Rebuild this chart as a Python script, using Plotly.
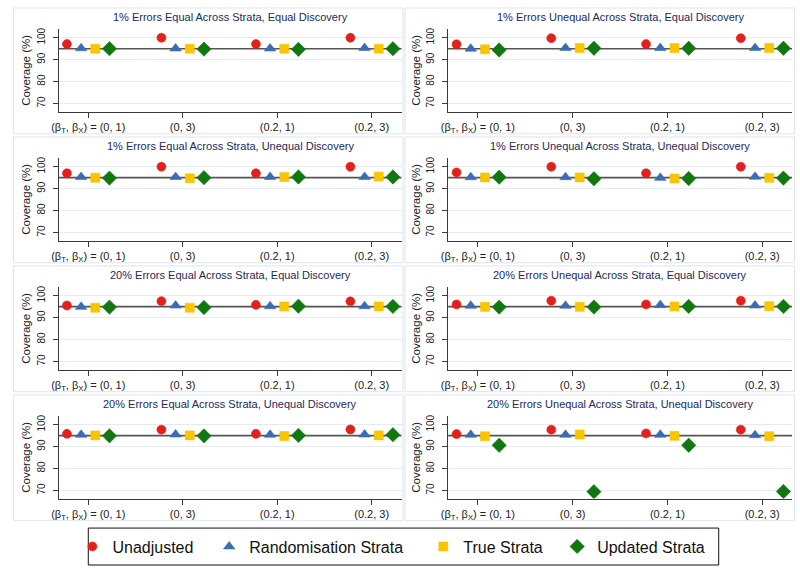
import plotly.graph_objects as go

# ---------------- data ----------------
categories = ["(β<sub>T</sub>, β<sub>X</sub>) = (0, 1)", "(0, 3)", "(0.2, 1)", "(0.2, 3)"]
panel_titles = [
    "1% Errors Equal Across Strata, Equal Discovery",
    "1% Errors Unequal Across Strata, Equal Discovery",
    "1% Errors Equal Across Strata, Unequal Discovery",
    "1% Errors Unequal Across Strata, Unequal Discovery",
    "20% Errors Equal Across Strata, Equal Discovery",
    "20% Errors Unequal Across Strata, Equal Discovery",
    "20% Errors Equal Across Strata, Unequal Discovery",
    "20% Errors Unequal Across Strata, Unequal Discovery",
]
series_names = ["Unadjusted", "Randomisation Strata", "True Strata", "Updated Strata"]

unadjusted = [
    [97.1, 100.0, 97.1, 100.0],
    [97.0, 99.8, 97.1, 99.8],
    [97.0, 100.0, 97.0, 100.0],
    [97.4, 100.0, 97.0, 100.0],
    [95.5, 97.5, 95.8, 97.4],
    [96.0, 97.7, 96.0, 97.7],
    [95.8, 97.7, 95.8, 97.8],
    [95.7, 97.7, 96.0, 97.7],
]
randomisation = [
    [95.2, 95.1, 95.1, 95.3],
    [95.0, 95.3, 95.3, 95.3],
    [95.3, 95.3, 95.3, 95.3],
    [95.2, 95.2, 94.9, 95.4],
    [94.9, 95.5, 95.2, 95.2],
    [95.4, 95.4, 95.7, 95.5],
    [95.4, 95.5, 95.4, 95.5],
    [95.4, 95.4, 95.4, 95.2],
]
true_strata = [
    [95.0, 95.0, 95.0, 95.0],
    [94.7, 95.3, 95.3, 95.3],
    [95.0, 94.7, 95.3, 95.5],
    [95.1, 95.1, 94.6, 94.9],
    [94.5, 94.5, 95.1, 95.1],
    [94.9, 94.9, 95.1, 95.2],
    [95.1, 95.1, 94.8, 95.1],
    [94.7, 95.5, 94.9, 94.7],
]
updated = [
    [95.0, 94.8, 94.7, 95.0],
    [94.4, 95.2, 95.2, 95.2],
    [94.8, 95.0, 95.3, 95.3],
    [95.2, 94.5, 94.6, 94.8],
    [94.8, 94.6, 95.2, 95.1],
    [94.8, 94.8, 95.1, 95.1],
    [94.9, 94.9, 95.1, 95.4],
    [90.6, 69.4, 90.6, 69.5],
]
y_ticks = [70, 80, 90, 100]
target_coverage = 95

# ---------------- style ----------------
W, H = 800, 571
colors = ["#e3211c", "#3a6cb4", "#f8c500", "#11780f"]
symbols = ["circle", "triangle-up", "square", "diamond"]
sizes = [9, 10, 9, 11]
offsets = [-0.225, -0.075, 0.075, 0.225]
font_family = "Liberation Sans, Arial, sans-serif"
frame_color = "#dfe5eb"
grid_color = "#e4eaef"
axis_color = "#3a3a3a"

col_x = [(52, 398), (445, 792)]
row_step = 129.2
legend_x_px = [66, 204, 420, 555]
legend_keys = ["legend", "legend2", "legend3", "legend4"]

fig = go.Figure()
shapes = []
annotations = []
all_series = [unadjusted, randomisation, true_strata, updated]

for p in range(8):
    r, c = divmod(p, 2)
    suffix = "" if p == 0 else str(p + 1)
    xa, ya = "x" + suffix, "y" + suffix
    x0, x1 = col_x[c]
    top = 28 + row_step * r
    bot = 111 + row_step * r
    xdom = [x0 / W, x1 / W]
    ydom = [1 - bot / H, 1 - top / H]

    for s in range(4):
        fig.add_trace(go.Scatter(
            x=[i + offsets[s] for i in range(len(categories))],
            y=all_series[s][p],
            mode="markers",
            name=series_names[s],
            legendgroup=series_names[s],
            legend=legend_keys[s],
            showlegend=(p == 0),
            marker=dict(color=colors[s], symbol=symbols[s], size=sizes[s],
                        line=dict(width=0.6, color=colors[s])),
            xaxis=xa, yaxis=ya,
        ))

    fig.layout["xaxis" + suffix] = dict(
        domain=xdom, anchor=ya, range=[-0.314, 3.316],
        tickmode="array", tickvals=list(range(len(categories))), ticktext=categories,
        showgrid=False, zeroline=False, showline=True, linecolor=axis_color, linewidth=1,
        ticks="outside", ticklen=5, tickcolor=axis_color,
        tickfont=dict(size=11, color="#222", family=font_family),
    )
    fig.layout["yaxis" + suffix] = dict(
        domain=ydom, anchor=xa, range=[66.2, 104],
        tickmode="array", tickvals=y_ticks, tickangle=-90,
        showgrid=True, gridcolor=grid_color, gridwidth=1,
        zeroline=False, showline=True, linecolor=axis_color, linewidth=1,
        ticks="outside", ticklen=5, tickcolor=axis_color, ticklabelstandoff=4,
        tickfont=dict(size=10, color="#222", family=font_family),
        title=dict(text="Coverage (%)", standoff=2,
                   font=dict(size=11.5, color="#222", family=font_family)),
    )
    shapes.append(dict(type="line", xref=xa + " domain", yref=ya,
                       x0=0, x1=1, y0=target_coverage, y1=target_coverage,
                       line=dict(color="#555555", width=1.6), layer="below"))
    fx0, fx1 = (6.5, 399.5) if c == 0 else (401.5, 794.5)
    fy0 = 7 + row_step * r
    fy1 = fy0 + 126
    shapes.append(dict(type="rect", xref="paper", yref="paper",
                       x0=fx0 / W, x1=fx1 / W, y0=1 - fy1 / H, y1=1 - fy0 / H,
                       line=dict(color=frame_color, width=1), layer="below"))
    annotations.append(dict(
        text=panel_titles[p], xref="paper", yref="paper",
        x=(x0 + x1) / 2 / W, y=1 - (16 + row_step * r) / H,
        xanchor="center", yanchor="middle", showarrow=False,
        font=dict(size=11, color="#1c2a5a", family=font_family),
    ))

# legend frame
shapes.append(dict(type="rect", xref="paper", yref="paper",
                   x0=82 / W, x1=718 / W, y0=1 - 565 / H, y1=1 - 528 / H,
                   line=dict(color="#111111", width=1), fillcolor="white", layer="below"))

layout_legends = {}
for k, key in enumerate(legend_keys):
    layout_legends[key] = dict(
        orientation="h", x=legend_x_px[k] / W, xanchor="left",
        y=1 - 546.5 / H, yanchor="middle",
        borderwidth=0, bgcolor="rgba(0,0,0,0)",
        font=dict(size=16, color="#111", family=font_family),
    )

fig.update_layout(
    width=W, height=H,
    margin=dict(l=0, r=0, t=0, b=0),
    paper_bgcolor="white", plot_bgcolor="white",
    shapes=shapes, annotations=annotations,
    showlegend=True,
    font=dict(family=font_family),
    **layout_legends,
)

fig.write_html("out.html", config={"displayModeBar": False},
               post_script="document.body.style.margin='0';document.body.style.overflow='hidden';")
